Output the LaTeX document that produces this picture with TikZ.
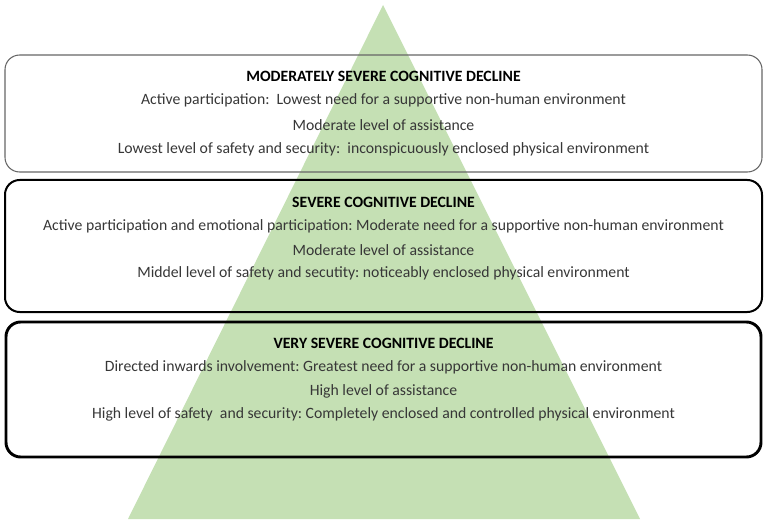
\documentclass[tikz,border=0pt]{standalone}
\usepackage{fontspec}
\setmainfont{Carlito}
\definecolor{pyramid}{RGB}{197,224,180}
\definecolor{bodytext}{RGB}{55,55,55}

\begin{document}
\begin{tikzpicture}[x=0.75pt, y=-0.75pt,
  title/.style={font=\fontsize{11.8}{14}\selectfont\bfseries, text=black},
  body/.style={font=\fontsize{11.8}{14}\selectfont, text=bodytext},
  frame/.style={rounded corners=11pt}]

  \useasboundingbox (0,0) rectangle (767,524);

  % pyramid
  \fill [pyramid] (383,5) -- (640,519) -- (128,519) -- cycle;

  % box 1 (moderately severe)
  \draw [frame, gray!80!black, line width=0.8pt] (5,55) rectangle (762,172);
  \node [title] (t1) at (383.5,76) {MODERATELY SEVERE COGNITIVE DECLINE};
  \node [body] (a1) at (383.5,100) {Active participation:\ \ Lowest need for a supportive non-human environment};
  \node [body] (b1) at (383.5,125) {Moderate level of assistance};
  \node [body] (c1) at (383.5,149) {Lowest level of safety and security:\ \ inconspicuously enclosed physical environment};

  % box 2 (severe)
  \draw [frame, black, line width=1.5pt] (5,180) rectangle (762,312);
  \node [title] (t2) at (383.5,202) {SEVERE COGNITIVE DECLINE};
  \node [body] (a2) at (383.5,226) {Active participation and emotional participation:\ Moderate need for a supportive non-human environment};
  \node [body] (b2) at (383.5,250) {Moderate level of assistance};
  \node [body] (c2) at (383.5,273) {Middel level of safety and secutity:\ noticeably enclosed physical environment};

  % box 3 (very severe)
  \draw [frame, black, line width=2.2pt] (6,322) rectangle (761,457);
  \node [title] (t3) at (383.5,343) {VERY SEVERE COGNITIVE DECLINE};
  \node [body] (a3) at (383.5,367) {Directed inwards involvement:\ Greatest need for a supportive non-human environment};
  \node [body] (b3) at (383.5,391) {High level of assistance};
  \node [body] (c3) at (383.5,414) {High level of safety\ \ and security:\ Completely enclosed and controlled physical environment};

\end{tikzpicture}
\end{document}
